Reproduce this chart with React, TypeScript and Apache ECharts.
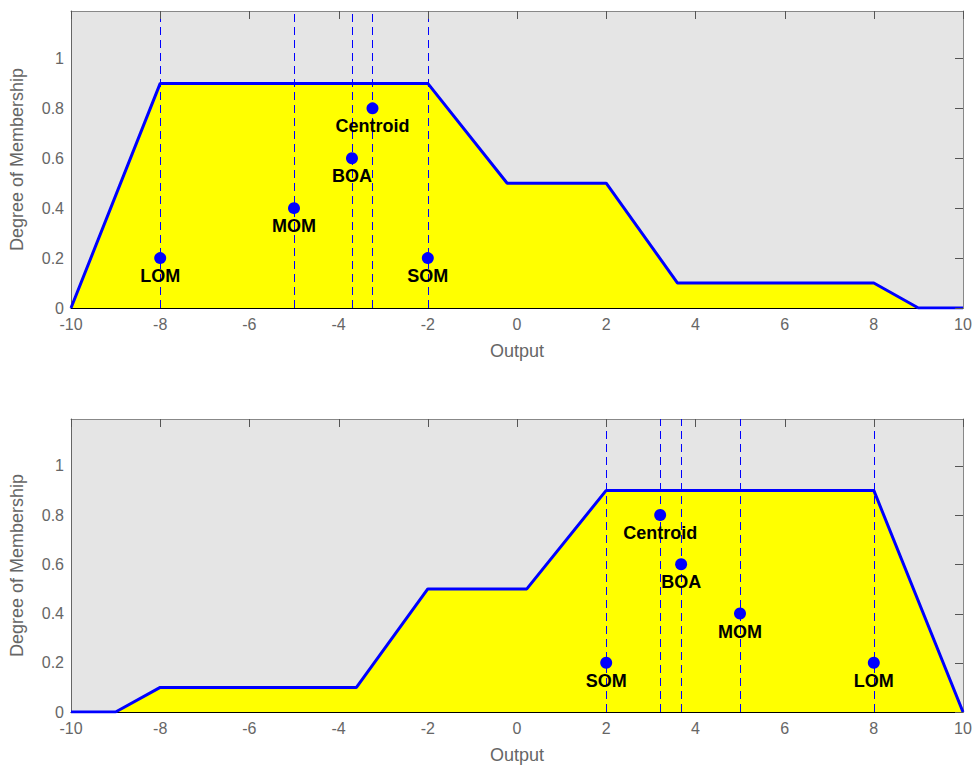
import React, { useEffect, useRef } from "react";
import * as echarts from "echarts";

// Aggregated output membership function, top subplot
const topCurveX = [-10, -8, -2, -0.22, 2, 3.6, 8, 9, 10];
const topCurveY = [0, 0.9, 0.9, 0.5, 0.5, 0.1, 0.1, 0, 0];
// Bottom subplot
const botCurveX = [-10, -9, -8, -3.6, -2, 0.22, 2, 8, 10];
const botCurveY = [0, 0, 0.1, 0.1, 0.5, 0.5, 0.9, 0.9, 0];

// Defuzzification results
const methodNames = ["Centroid", "BOA", "MOM", "SOM", "LOM"];
const methodY = [0.8, 0.6, 0.4, 0.2, 0.2];
const topMethodX = [-3.24, -3.7, -5, -2, -8];
const botMethodX = [3.21, 3.68, 5, 2, 8];

// Axes
const xTickValues = [-10, -8, -6, -4, -2, 0, 2, 4, 6, 8, 10];
const yTickValues = [0, 0.2, 0.4, 0.6, 0.8, 1];
const xTickMin = -10;
const xTickMax = 10;
const xTickStep = 2;
const yTickMin = 0;
const yTickMax = 1.19;
const yTickStep = 0.2;

const FONT = "'Liberation Sans', Arial, Helvetica, sans-serif";
const TICK_LEN = 8;
const TICK_COLOR = "#555";

export default function App() {
  const ref = useRef<HTMLDivElement>(null);
  useEffect(() => {
    document.body.style.margin = "0";
    if (!ref.current) return;
    const chart = echarts.init(ref.current, undefined, { renderer: "svg" });

    const grids = [
      { left: 70, top: 11, width: 893, height: 297 },
      { left: 70, top: 419, width: 893, height: 297 },
    ].map((g) => ({
      ...g,
      show: true,
      backgroundColor: "#e5e5e5",
      borderWidth: 0,
      containLabel: false,
    }));

    const xAxes: any[] = [];
    const yAxes: any[] = [];
    [0, 1].forEach((gi) => {
      xAxes.push({
        type: "value",
        gridIndex: gi,
        min: xTickMin,
        max: xTickMax,
        interval: xTickStep,
        position: "bottom",
        name: "Output",
        nameLocation: "middle",
        nameGap: 34,
        nameTextStyle: { color: "#666", fontSize: 18, fontFamily: FONT },
        axisLine: { show: true, onZero: false, lineStyle: { color: "#000", width: 1 } },
        axisTick: { show: false },
        axisLabel: { color: "#666", fontSize: 16, fontFamily: FONT, margin: 8 },
        splitLine: { show: false },
      });
      xAxes.push({
        type: "value",
        gridIndex: gi,
        min: xTickMin,
        max: xTickMax,
        interval: xTickStep,
        position: "top",
        axisLine: { show: true, onZero: false, lineStyle: { color: "#888", width: 1 } },
        axisTick: { show: false },
        axisLabel: { show: false },
        splitLine: { show: false },
      });
      yAxes.push({
        type: "value",
        gridIndex: gi,
        min: yTickMin,
        max: yTickMax,
        interval: yTickStep,
        position: "left",
        name: "Degree of Membership",
        nameLocation: "middle",
        nameGap: 45,
        nameTextStyle: { color: "#666", fontSize: 18, fontFamily: FONT },
        axisLine: { show: true, onZero: false, lineStyle: { color: "#666", width: 1 } },
        axisTick: { show: false },
        axisLabel: {
          color: "#666",
          fontSize: 16,
          fontFamily: FONT,
          margin: 7,
          showMaxLabel: false,
        },
        splitLine: { show: false },
      });
      yAxes.push({
        type: "value",
        gridIndex: gi,
        min: yTickMin,
        max: yTickMax,
        interval: yTickStep,
        position: "right",
        axisLine: { show: true, onZero: false, lineStyle: { color: "#888", width: 1 } },
        axisTick: { show: false },
        axisLabel: { show: false },
        splitLine: { show: false },
      });
    });

    const mkDash = () => ({ color: "#0000ff", width: 1, type: [8, 5], opacity: 1 });

    const makeSeries = (gi: number, cx: number[], cy: number[], mx: number[]) => {
      const xi = gi * 2;
      const yi = gi * 2;
      return [
        {
          type: "line",
          xAxisIndex: xi,
          yAxisIndex: yi,
          data: cx.map((x, i) => [x, cy[i]]),
          symbol: "none",
          lineStyle: { color: "#0000ff", width: 3, opacity: 1 },
          areaStyle: { color: "#ffff00", opacity: 1 },
          z: 2,
          silent: true,
        },
        {
          type: "line",
          xAxisIndex: xi,
          yAxisIndex: yi,
          data: [],
          symbol: "none",
          z: 3,
          silent: true,
          markLine: {
            silent: true,
            symbol: ["none", "none"],
            label: { show: false },
            lineStyle: mkDash(),
            emphasis: { disabled: true },
            data: mx.map((x) => ({ xAxis: x, lineStyle: mkDash() })),
          },
        },
        {
          type: "scatter",
          xAxisIndex: xi,
          yAxisIndex: yi,
          symbol: "circle",
          symbolSize: 12,
          itemStyle: { color: "#0000ff", opacity: 1 },
          z: 5,
          silent: true,
          data: mx.map((x, i) => ({ value: [x, methodY[i]], name: methodNames[i] })),
          label: {
            show: true,
            position: "bottom",
            distance: 3,
            formatter: "{b}",
            color: "#000",
            fontSize: 18,
            fontWeight: "bold",
            fontFamily: FONT,
            textBorderWidth: 0,
            opacity: 1,
          },
        },
      ];
    };

    chart.setOption({
      animation: false,
      grid: grids,
      xAxis: xAxes,
      yAxis: yAxes,
      series: [
        ...makeSeries(0, topCurveX, topCurveY, topMethodX),
        ...makeSeries(1, botCurveX, botCurveY, botMethodX),
      ],
    });

    // Inside tick marks on the top and right box edges (MATLAB style)
    try {
      const marks: any[] = [];
      const snap = (v: number) => Math.round(v) + 0.5;
      [0, 1].forEach((gi) => {
        xTickValues.forEach((v) => {
          const p = chart.convertToPixel({ gridIndex: gi } as any, [v, yTickMax]) as number[];
          if (!p) return;
          const x = snap(p[0]);
          marks.push({
            type: "line",
            silent: true,
            z: 10,
            shape: { x1: x, y1: p[1], x2: x, y2: p[1] + TICK_LEN },
            style: { stroke: TICK_COLOR, lineWidth: 1 },
          });
        });
        yTickValues.forEach((v) => {
          const p = chart.convertToPixel({ gridIndex: gi } as any, [xTickMax, v]) as number[];
          if (!p) return;
          const y = snap(p[1]);
          marks.push({
            type: "line",
            silent: true,
            z: 10,
            shape: { x1: p[0], y1: y, x2: p[0] - TICK_LEN, y2: y },
            style: { stroke: TICK_COLOR, lineWidth: 1 },
          });
        });
      });
      chart.setOption({ graphic: marks });
    } catch (e) {
      // ignore
    }
    return () => chart.dispose();
  }, []);
  return <div ref={ref} style={{ width: 976, height: 765, background: "#fff" }} />;
}
